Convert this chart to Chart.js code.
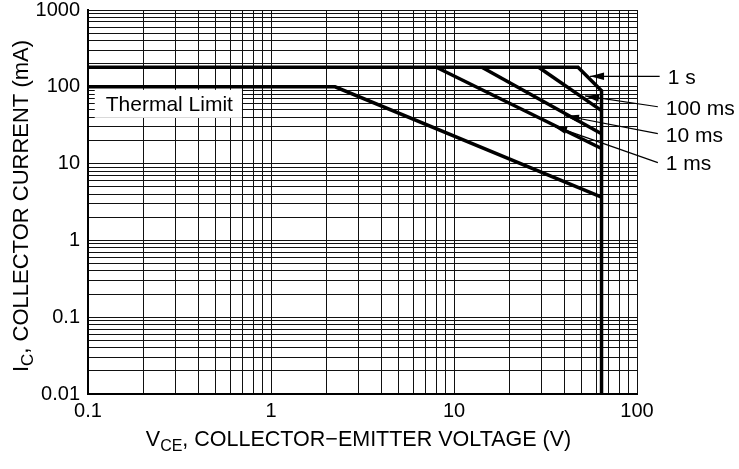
<!DOCTYPE html>
<html>
<head>
<meta charset="utf-8">
<script src="https://cdn.jsdelivr.net/npm/chart.js@4.4.1/dist/chart.umd.min.js"></script>
<style>
  html, body { margin: 0; padding: 0; background: #fff; }
</style>
</head>
<body>
<canvas id="soa" width="739" height="469"></canvas>
<script>
// safe operating area, VCE (V) against IC (mA)
var dc1s    = [[0.1, 180], [47.6, 180], [64, 89], [64, 0.01]];
var ms100   = [[29, 180], [64, 49]];
var ms10    = [[14.2, 180], [64, 24.5]];
var ms1     = [[8, 180], [64, 15.7]];
var thermal = [[0.1, 100], [2.24, 100], [64, 3.65]];

var xTickLabels = ["0.1", "1", "10", "100"];
var yTickLabels = ["0.01", "0.1", "1", "10", "100", "1000"];

// callouts on the right: text, arrow tip and tail in (V, mA)
var calloutText = ["1 s", "100 ms", "10 ms", "1 ms"];
var calloutTip  = [[55.4, 137], [52, 76], [40.4, 42], [34.8, 31]];
var calloutTail = [[133, 137], [130, 55], [130, 24.5], [130, 10.3]];

var thermalText = "Thermal Limit";
var thermalAt = [0.125, 60];

var FONT = "'Liberation Sans', Arial, sans-serif";

function toPoints(arr) {
    return arr.map(function (p) { return { x: p[0], y: p[1] }; });
}

// 1..9 in every decade, used for the grid
function decadeTicks(lo, hi) {
    var out = [];
    for (var e = lo; e < hi; e++) {
        for (var m = 1; m < 10; m++) {
            out.push(parseFloat((m * Math.pow(10, e)).toPrecision(6)));
        }
    }
    out.push(Math.pow(10, hi));
    return out;
}

function labelFor(labels) {
    return function (value) {
        for (var i = 0; i < labels.length; i++) {
            if (Math.abs(parseFloat(labels[i]) / value - 1) < 1e-6) return labels[i];
        }
        return "";
    };
}

function line(data) {
    return {
        data: toPoints(data),
        borderColor: "#000",
        borderWidth: 3.5,
        pointRadius: 0,
        tension: 0,
        fill: false
    };
}

function drawSubText(ctx, main, sub, rest, x, y, size) {
    // draws main + subscript + rest, centred on x
    ctx.font = size + "px " + FONT;
    var w1 = ctx.measureText(main).width;
    var w3 = ctx.measureText(rest).width;
    ctx.font = Math.round(size * 0.75) + "px " + FONT;
    var w2 = ctx.measureText(sub).width;
    var left = x - (w1 + w2 + w3) / 2;
    ctx.textAlign = "left";
    ctx.textBaseline = "middle";
    ctx.font = size + "px " + FONT;
    ctx.fillText(main, left, y);
    ctx.font = Math.round(size * 0.75) + "px " + FONT;
    ctx.fillText(sub, left + w1, y + size * 0.3);
    ctx.font = size + "px " + FONT;
    ctx.fillText(rest, left + w1 + w2, y);
}

var decorations = {
    id: "decorations",
    beforeDatasetsDraw: function (chart) {
        var ctx = chart.ctx, xs = chart.scales.x, ys = chart.scales.y;
        var px = xs.getPixelForValue(thermalAt[0]);
        var py = ys.getPixelForValue(thermalAt[1]);
        ctx.save();
        ctx.font = "21px " + FONT;
        var w = ctx.measureText(thermalText).width;
        ctx.fillStyle = "#fff";
        ctx.fillRect(px - 11, py - 14, w + 20, 28);
        ctx.fillStyle = "#000";
        ctx.textAlign = "left";
        ctx.textBaseline = "middle";
        ctx.fillText(thermalText, px, py + 1);
        ctx.restore();
    },
    afterDraw: function (chart) {
        var ctx = chart.ctx, xs = chart.scales.x, ys = chart.scales.y;
        var area = chart.chartArea;
        ctx.save();
        ctx.fillStyle = "#000";
        ctx.strokeStyle = "#000";

        for (var i = 0; i < calloutText.length; i++) {
            var tx = xs.getPixelForValue(calloutTip[i][0]);
            var ty = ys.getPixelForValue(calloutTip[i][1]);
            var sx = xs.getPixelForValue(calloutTail[i][0]);
            var sy = ys.getPixelForValue(calloutTail[i][1]);
            var ang = Math.atan2(ty - sy, tx - sx);
            ctx.lineWidth = 1.2;
            ctx.beginPath();
            ctx.moveTo(sx, sy);
            ctx.lineTo(tx, ty);
            ctx.stroke();
            // arrow head
            var len = 14, half = 3.8;
            ctx.beginPath();
            ctx.moveTo(tx, ty);
            ctx.lineTo(tx - len * Math.cos(ang) - half * Math.sin(ang), ty - len * Math.sin(ang) + half * Math.cos(ang));
            ctx.lineTo(tx - len * Math.cos(ang) + half * Math.sin(ang), ty - len * Math.sin(ang) - half * Math.cos(ang));
            ctx.closePath();
            ctx.fill();

            ctx.font = "21px " + FONT;
            ctx.textAlign = "left";
            ctx.textBaseline = "middle";
            ctx.fillText(calloutText[i], sx + 8, sy + 2);
        }

        // axis titles
        var cx = (area.left + area.right) / 2;
        drawSubText(ctx, "V", "CE", ", COLLECTOR\u2212EMITTER VOLTAGE (V)", cx - 4, 440, 21.5);

        ctx.translate(22, (area.top + area.bottom) / 2 + 4);
        ctx.rotate(-Math.PI / 2);
        drawSubText(ctx, "I", "C", ", COLLECTOR CURRENT (mA)", 0, 0, 22);
        ctx.restore();
    }
};

var tickFont = { family: FONT, size: 20, lineHeight: 1 };

new Chart("soa", {
    type: "line",
    data: {
        datasets: [line(dc1s), line(ms100), line(ms10), line(ms1), line(thermal)]
    },
    options: {
        responsive: false,
        animation: false,
        devicePixelRatio: 1,
        layout: { padding: { top: 10, right: 102, left: 0, bottom: 0 } },
        plugins: { legend: { display: false }, tooltip: { enabled: false } },
        scales: {
            x: {
                type: "logarithmic",
                min: 0.1,
                max: 100,
                afterBuildTicks: function (scale) {
                    scale.ticks = decadeTicks(-1, 2).map(function (v) { return { value: v }; });
                },
                afterFit: function (scale) {
                    scale.height = 75;
                    scale.paddingLeft = 0;
                    scale.paddingRight = 0;
                },
                ticks: {
                    autoSkip: false,
                    maxRotation: 0,
                    padding: 7,
                    color: "#000",
                    font: tickFont,
                    callback: labelFor(xTickLabels)
                },
                grid: { color: "#111", lineWidth: 1, drawTicks: false },
                border: { display: true, color: "#000", width: 2 }
            },
            y: {
                type: "logarithmic",
                min: 0.01,
                max: 1000,
                afterBuildTicks: function (scale) {
                    scale.ticks = decadeTicks(-2, 3).map(function (v) { return { value: v }; });
                },
                afterFit: function (scale) {
                    scale.width = 88;
                    scale.paddingTop = 0;
                    scale.paddingBottom = 0;
                },
                ticks: {
                    autoSkip: false,
                    padding: 8,
                    color: "#000",
                    font: tickFont,
                    callback: labelFor(yTickLabels)
                },
                grid: { color: "#111", lineWidth: 1, drawTicks: false },
                border: { display: true, color: "#000", width: 2 }
            }
        }
    },
    plugins: [decorations]
});
</script>
</body>
</html>
